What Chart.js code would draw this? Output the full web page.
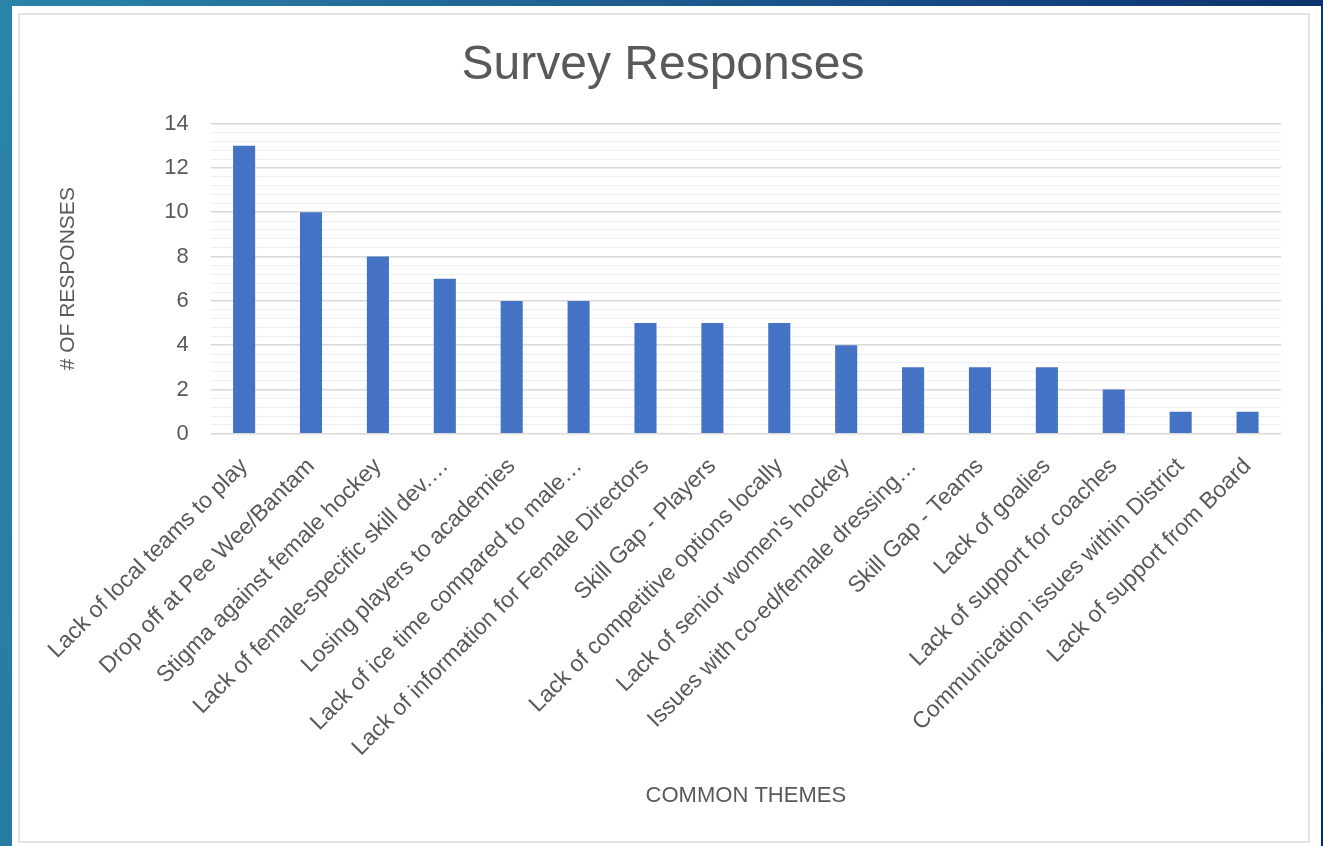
<!DOCTYPE html>
<html>
<head>
<meta charset="utf-8">
<script src="https://cdn.jsdelivr.net/npm/chart.js@4"></script>
<style>
  html, body { margin:0; padding:0; width:1323px; height:846px; overflow:hidden; }
  body { background: linear-gradient(100deg, #2a85a8 0%, #1f5f92 40%, #123f7a 75%, #0a2a63 100%); position:relative; }
  #panel { position:absolute; left:12px; top:6px; width:1309px; height:840px; background:#fff; }
  #frame { position:absolute; left:18px; top:13px; width:1288px; height:826px; border:2px solid #e3e3e3; }
  #wrap { position:absolute; left:0; top:0; width:1323px; height:846px; }
</style>
</head>
<body>
<div id="panel"></div>
<div id="frame"></div>
<div id="wrap"><canvas id="c" width="1323" height="846"></canvas></div>
<script>
const categories = [
  "Lack of local teams to play",
  "Drop off at Pee Wee/Bantam",
  "Stigma against female hockey",
  "Lack of female-specific skill dev.…",
  "Losing players to academies",
  "Lack of ice time compared to male…",
  "Lack of information for Female Directors",
  "Skill Gap - Players",
  "Lack of competitive options locally",
  "Lack of senior women's hockey",
  "Issues with co-ed/female dressing…",
  "Skill Gap - Teams",
  "Lack of goalies",
  "Lack of support for coaches",
  "Communication issues within District",
  "Lack of support from Board"
];
const responses = [13, 10, 8, 7, 6, 6, 5, 5, 5, 4, 3, 3, 3, 2, 1, 1];
const yTickLabels = [0, 2, 4, 6, 8, 10, 12, 14];

const isMajor = v => yTickLabels.some(t => Math.abs(t - v) < 1e-6);
const gray = '#595959';
const fam = '"Liberation Sans", Arial, sans-serif';

new Chart(document.getElementById('c'), {
  type: 'bar',
  data: {
    labels: categories,
    datasets: [{
      data: responses,
      backgroundColor: '#4472c4',
      borderWidth: 0,
      categoryPercentage: 1,
      barPercentage: 0.33
    }]
  },
  options: {
    responsive: false,
    animation: false,
    layout: { padding: { left: 45, right: 42, top: 10, bottom: 20 } },
    plugins: {
      legend: { display: false },
      tooltip: { enabled: false },
      title: {
        display: true,
        text: 'Survey Responses',
        color: gray,
        font: { family: fam, size: 48, weight: 'normal' },
        padding: { top: 27, bottom: 29 }
      }
    },
    scales: {
      x: {
        grid: { display: false },
        border: { display: false },
        ticks: {
          autoSkip: false,
          minRotation: 45,
          maxRotation: 45,
          color: gray,
          padding: 11,
          font: { family: fam, size: 23 }
        },
        title: {
          display: true,
          text: 'COMMON THEMES',
          color: gray,
          font: { family: fam, size: 22 },
          padding: { top: 10, bottom: 17 }
        }
      },
      y: {
        min: 0,
        max: 14,
        border: { display: false },
        grid: {
          drawTicks: false,
          color: ctx => isMajor(ctx.tick.value) ? '#d9d9d9' : '#eeeeee',
          lineWidth: ctx => isMajor(ctx.tick.value) ? 1.5 : 1
        },
        ticks: {
          stepSize: 0.4,
          autoSkip: false,
          color: gray,
          padding: 22,
          font: { family: fam, size: 22 },
          callback: v => isMajor(v) ? String(Math.round(v)) : ''
        },
        title: {
          display: true,
          text: '# OF RESPONSES',
          color: gray,
          font: { family: fam, size: 21 },
          padding: { top: 11, bottom: 61 }
        }
      }
    }
  }
});
</script>
</body>
</html>
